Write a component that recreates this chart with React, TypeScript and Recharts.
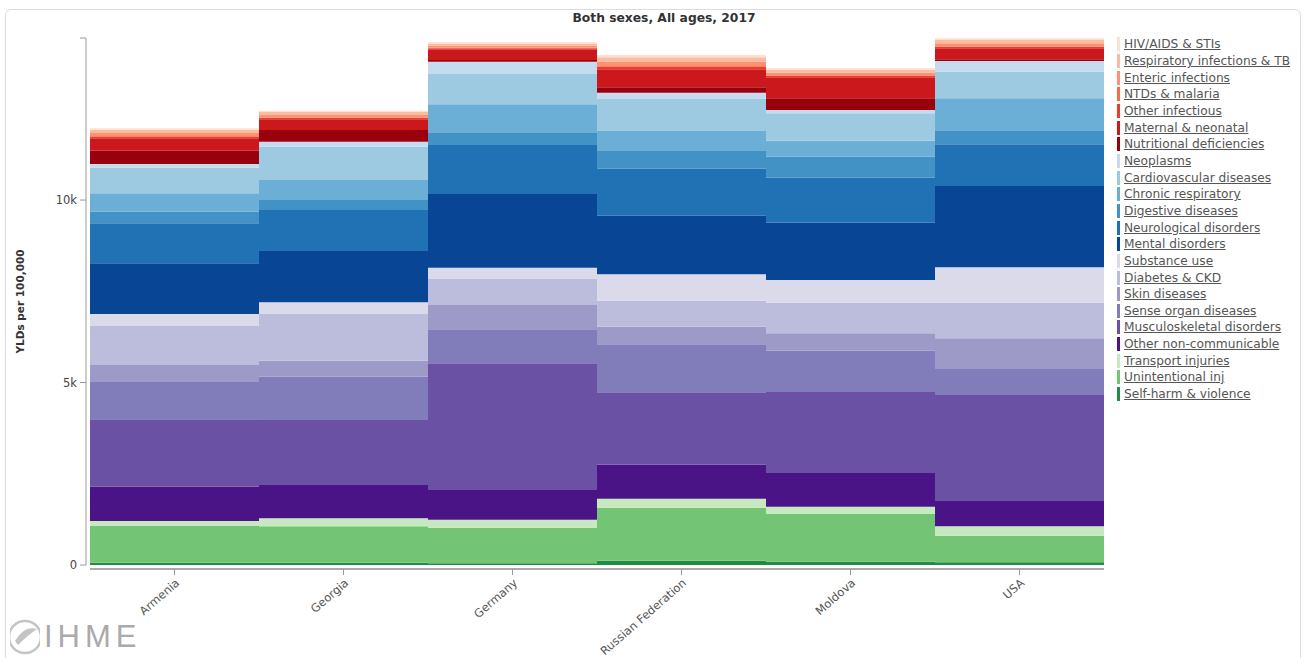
import { Bar, BarChart, XAxis, YAxis } from "recharts"

// YLDs per 100,000, both sexes, all ages, 2017
const countries = ["Armenia", "Georgia", "Germany", "Russian Federation", "Moldova", "USA"]

const selfHarm = [63, 63, 47, 118, 90, 74]
const unintentional = [1005, 997, 975, 1452, 1307, 729]
const transport = [137, 219, 219, 246, 200, 257]
const otherNcd = [940, 913, 814, 932, 924, 693]
const musculoskeletal = [1847, 1781, 3471, 1984, 2219, 2905]
const senseOrgan = [1041, 1186, 932, 1315, 1131, 712]
const skin = [446, 438, 665, 482, 477, 841]
const diabetes = [1069, 1280, 713, 712, 838, 975]
const substance = [329, 320, 309, 723, 622, 970]
const mental = [1389, 1406, 2019, 1606, 1570, 2228]
const neurological = [1096, 1123, 1343, 1288, 1233, 1142]
const digestive = [317, 274, 348, 484, 575, 364]
const chronicResp = [505, 548, 767, 548, 439, 896]
const cardiovascular = [701, 912, 830, 877, 750, 729]
const neoplasms = [101, 137, 337, 173, 91, 293]
const nutritional = [365, 321, 47, 148, 320, 47]
const maternal = [339, 293, 293, 493, 576, 301]
const otherInfectious = [50, 40, 32, 72, 44, 45]
const ntds = [14, 11, 10, 20, 12, 14]
const enteric = [80, 70, 55, 120, 70, 80]
const respiratory = [90, 80, 65, 120, 85, 90]
const hiv = [40, 35, 30, 60, 35, 45]

const yTicks = [0, 5000, 10000, 14440]

// bottom of the stack first
const causes = [
  { key: "selfHarm", name: "Self-harm & violence", color: "#238b45", values: selfHarm },
  { key: "unintentional", name: "Unintentional inj", color: "#74c476", values: unintentional },
  { key: "transport", name: "Transport injuries", color: "#c7e9c0", values: transport },
  { key: "otherNcd", name: "Other non-communicable", color: "#4a1486", values: otherNcd },
  { key: "musculo", name: "Musculoskeletal disorders", color: "#6a51a3", values: musculoskeletal },
  { key: "sense", name: "Sense organ diseases", color: "#807dba", values: senseOrgan },
  { key: "skin", name: "Skin diseases", color: "#9e9ac8", values: skin },
  { key: "diabetes", name: "Diabetes & CKD", color: "#bcbddc", values: diabetes },
  { key: "substance", name: "Substance use", color: "#dadaeb", values: substance },
  { key: "mental", name: "Mental disorders", color: "#084594", values: mental },
  { key: "neuro", name: "Neurological disorders", color: "#2171b5", values: neurological },
  { key: "digestive", name: "Digestive diseases", color: "#4292c6", values: digestive },
  { key: "chronic", name: "Chronic respiratory", color: "#6baed6", values: chronicResp },
  { key: "cardio", name: "Cardiovascular diseases", color: "#9ecae1", values: cardiovascular },
  { key: "neoplasms", name: "Neoplasms", color: "#c6dbef", values: neoplasms },
  { key: "nutritional", name: "Nutritional deficiencies", color: "#99000d", values: nutritional },
  { key: "maternal", name: "Maternal & neonatal", color: "#cb181d", values: maternal },
  { key: "otherInf", name: "Other infectious", color: "#ef3b2c", values: otherInfectious },
  { key: "ntds", name: "NTDs & malaria", color: "#fb6a4a", values: ntds },
  { key: "enteric", name: "Enteric infections", color: "#fc9272", values: enteric },
  { key: "resp", name: "Respiratory infections & TB", color: "#fcbba1", values: respiratory },
  { key: "hiv", name: "HIV/AIDS & STIs", color: "#fee0d2", values: hiv },
]

const data = countries.map((country, i) => {
  const row: Record<string, string | number> = { country }
  causes.forEach((c) => {
    row[c.key] = c.values[i]
  })
  return row
})

const FONT = "'DejaVu Sans', sans-serif"

function CountryTick({ x, y, payload }: any) {
  return (
    <g transform={`translate(${x + 3},${y + 8})`}>
      <text
        x={0}
        y={0}
        dy={4}
        textAnchor="end"
        transform="rotate(-41)"
        fill="#555"
        fontSize={11.5}
        fontFamily={FONT}
      >
        {payload.value}
      </text>
    </g>
  )
}

export default function App() {
  const legendItems = [...causes].reverse()

  return (
    <div
      style={{
        position: "absolute",
        left: 0,
        top: 0,
        width: 1304,
        height: 658,
        overflow: "hidden",
        background: "#fff",
        fontFamily: FONT,
      }}
    >
      {/* panel border */}
      <div
        style={{
          position: "absolute",
          left: 5,
          top: 9,
          width: 1294,
          height: 680,
          border: "1px solid #dcdcdc",
          borderRadius: 6,
        }}
      />

      <div
        style={{
          position: "absolute",
          left: 0,
          top: 11,
          width: 1328,
          textAlign: "center",
          fontSize: 12.3,
          fontWeight: "bold",
          color: "#333",
        }}
      >
        Both sexes, All ages, 2017
      </div>

      <div style={{ position: "absolute", left: 0, top: 0 }}>
        <BarChart
          width={1304}
          height={658}
          data={data}
          margin={{ top: 38, right: 200, bottom: 0, left: 10 }}
          barCategoryGap={0}
          barGap={0}
          style={{ fontFamily: FONT }}
        >
          <XAxis
            dataKey="country"
            height={93}
            interval={0}
            tickSize={6}
            axisLine={{ stroke: "#aaa", strokeWidth: 2, transform: "translate(0 4)" }}
            tickLine={{ stroke: "#999", transform: "translate(0 4)" }}
            tick={<CountryTick />}
          />
          <YAxis
            type="number"
            width={80}
            domain={[0, 14440]}
            ticks={yTicks}
            interval={0}
            tickSize={6}
            tickMargin={7}
            tickFormatter={(v: number) => (v === 0 ? "0" : v > 14000 ? "" : `${v / 1000}k`)}
            axisLine={{ stroke: "#999", transform: "translate(-4 0)" }}
            tickLine={{ stroke: "#999", transform: "translate(-4 0)" }}
            tick={{ fill: "#444", fontSize: 11.5, fontFamily: FONT }}
            label={{
              value: "YLDs per 100,000",
              angle: -90,
              position: "insideLeft",
              offset: 10,
              style: { fontSize: 10.5, fontWeight: "bold", fill: "#333", fontFamily: FONT, textAnchor: "middle" },
            }}
          />
          {causes.map((c) => (
            <Bar
              key={c.key}
              dataKey={c.key}
              name={c.name}
              stackId="yld"
              fill={c.color}
              isAnimationActive={false}
            />
          ))}
        </BarChart>
      </div>

      {/* legend, top of the stack first */}
      <div style={{ position: "absolute", left: 1117, top: 36 }}>
        {legendItems.map((c) => (
          <div
            key={c.key}
            style={{ display: "flex", alignItems: "center", height: 16.67, whiteSpace: "nowrap" }}
          >
            <span style={{ display: "inline-block", width: 3, height: 14, background: c.color, marginRight: 4 }} />
            <span style={{ fontSize: 12.2, color: "#555", textDecoration: "underline" }}>{c.name}</span>
          </div>
        ))}
      </div>

      {/* IHME mark */}
      <div style={{ position: "absolute", left: 10, top: 617, display: "flex", alignItems: "center" }}>
        <svg width={30} height={40}>
          <circle cx={15} cy={20} r={16} fill="none" stroke="#c4c4c4" strokeWidth={2.5} />
          <path d="M5 24 Q14 8 27 12 Q18 18 8 28 Z" fill="#c4c4c4" />
        </svg>
        <span
          style={{
            fontSize: 31,
            color: "#aaa",
            marginLeft: 4,
            letterSpacing: 5,
            fontWeight: 300,
            fontFamily: "'Liberation Sans', sans-serif",
          }}
        >
          IHME
        </span>
      </div>
    </div>
  )
}
